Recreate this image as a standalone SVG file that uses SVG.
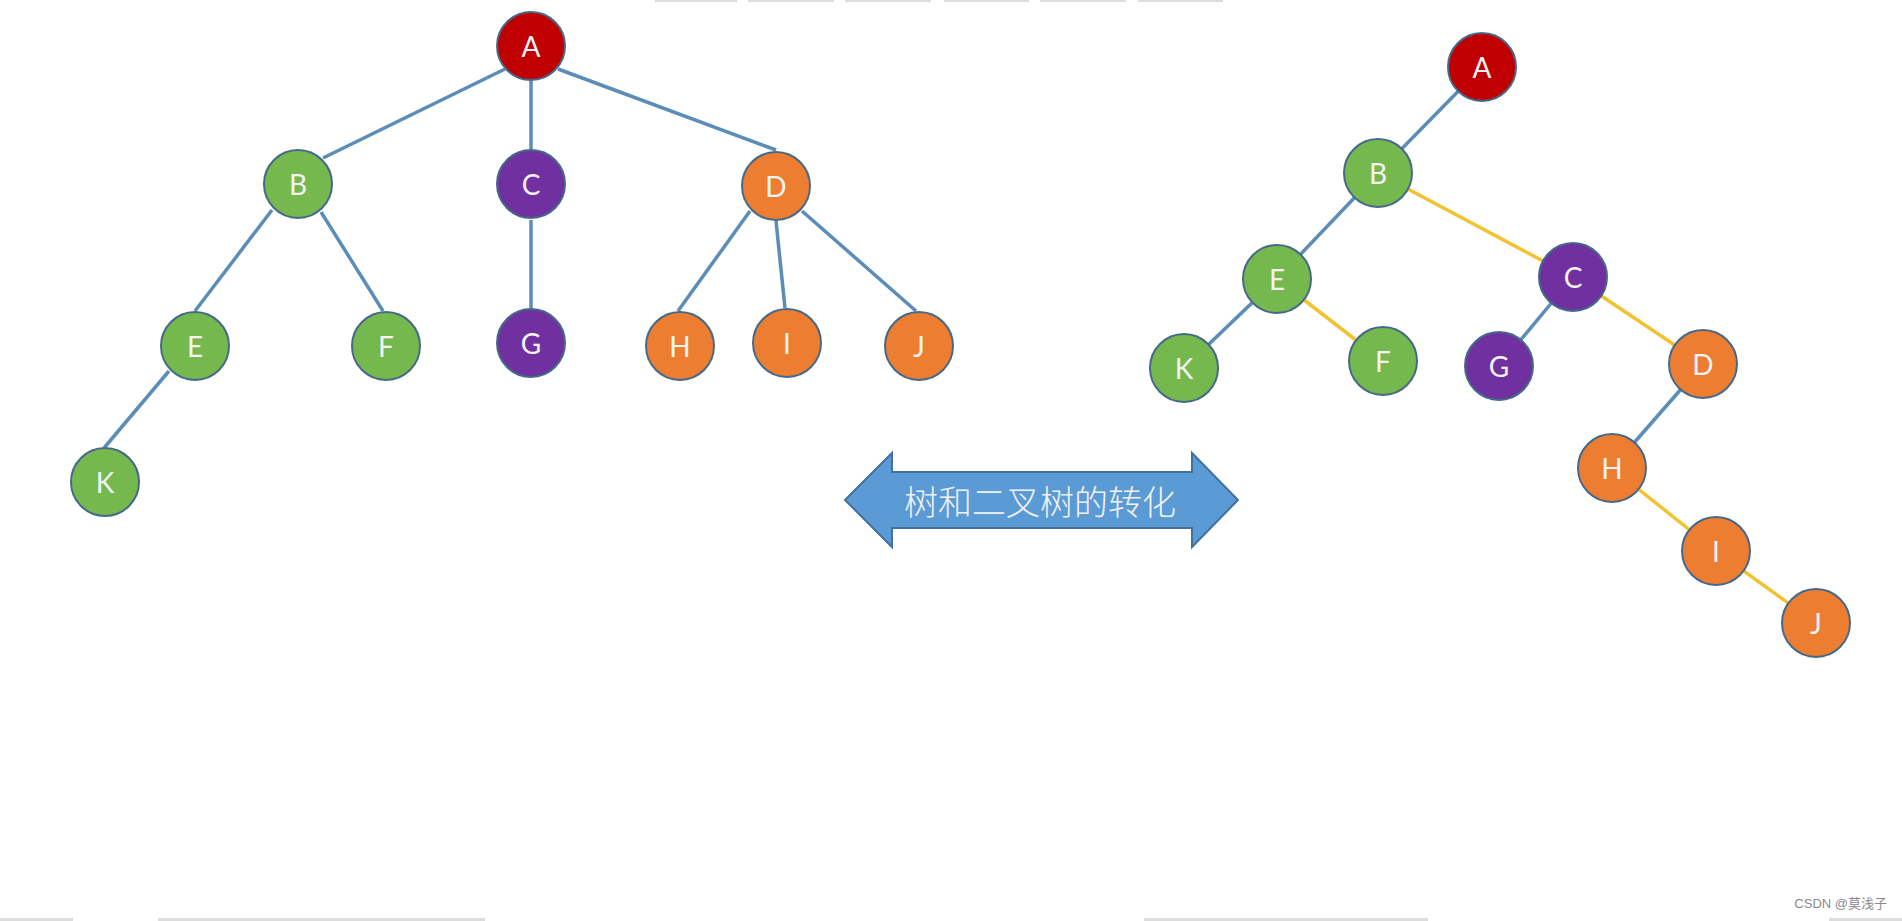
<svg xmlns="http://www.w3.org/2000/svg" width="1902" height="921" viewBox="0 0 1902 921">
<style>
.n circle{stroke:#46698a;stroke-width:2}
.n text{font-family:Lato,"Open Sans","Liberation Sans",sans-serif;font-size:28px;fill:#f4f4f4;text-anchor:middle;dominant-baseline:central}
.red{fill:#c00000}
.grn{fill:#74b84e}
.pur{fill:#7030a0}
.org{fill:#ed7d31}
.eb{stroke:#5b8db8;stroke-width:3.5;fill:none}
.ey{stroke:#f2c231;stroke-width:3.5;fill:none}
.bar{fill:#dcdcdc}
</style>
<rect width="1902" height="921" fill="#ffffff"/>
<g id="artifacts">
<rect class="bar" x="655" y="0" width="82" height="2"/>
<rect class="bar" x="748" y="0" width="86" height="2"/>
<rect class="bar" x="845" y="0" width="86" height="2"/>
<rect class="bar" x="944" y="0" width="85" height="2"/>
<rect class="bar" x="1040" y="0" width="86" height="2"/>
<rect class="bar" x="1138" y="0" width="85" height="2"/>
<rect class="bar" x="0" y="918" width="73" height="3"/>
<rect class="bar" x="158" y="918" width="327" height="3"/>
<rect class="bar" x="1144" y="918" width="284" height="3"/>
<rect class="bar" x="1829" y="918" width="73" height="3"/>
</g>
<g id="connectors">
<line class="eb" x1="505" y1="69" x2="323" y2="158"/>
<line class="eb" x1="531" y1="81" x2="531" y2="149"/>
<line class="eb" x1="558" y1="69" x2="776" y2="150"/>
<line class="eb" x1="272" y1="210" x2="195" y2="311"/>
<line class="eb" x1="321" y1="212" x2="383" y2="311"/>
<line class="eb" x1="531" y1="220" x2="531" y2="309"/>
<line class="eb" x1="750" y1="211" x2="678" y2="311"/>
<line class="eb" x1="776" y1="221" x2="785" y2="308"/>
<line class="eb" x1="802" y1="211" x2="916" y2="311"/>
<line class="eb" x1="169" y1="371" x2="104" y2="448"/>
<line class="eb" x1="1482" y1="67" x2="1378" y2="173"/>
<line class="eb" x1="1378" y1="173" x2="1277" y2="279"/>
<line class="eb" x1="1277" y1="279" x2="1184" y2="368"/>
<line class="eb" x1="1573" y1="277" x2="1499" y2="366"/>
<line class="eb" x1="1703" y1="364" x2="1612" y2="468"/>
<line class="ey" x1="1378" y1="173" x2="1573" y2="277"/>
<line class="ey" x1="1277" y1="279" x2="1383" y2="361"/>
<line class="ey" x1="1573" y1="277" x2="1703" y2="364"/>
<line class="ey" x1="1612" y1="468" x2="1716" y2="551"/>
<line class="ey" x1="1716" y1="551" x2="1816" y2="623"/>
</g>
<g id="L_A" class="n"><circle class="red" cx="531" cy="46" r="34"/><text x="531" y="46">A</text></g>
<g id="L_B" class="n"><circle class="grn" cx="298" cy="184" r="34"/><text x="298" y="184">B</text></g>
<g id="L_C" class="n"><circle class="pur" cx="531" cy="184" r="34"/><text x="531" y="184">C</text></g>
<g id="L_D" class="n"><circle class="org" cx="776" cy="186" r="34"/><text x="776" y="186">D</text></g>
<g id="L_E" class="n"><circle class="grn" cx="195" cy="346" r="34"/><text x="195" y="346">E</text></g>
<g id="L_F" class="n"><circle class="grn" cx="386" cy="346" r="34"/><text x="386" y="346">F</text></g>
<g id="L_G" class="n"><circle class="pur" cx="531" cy="343" r="34"/><text x="531" y="343">G</text></g>
<g id="L_H" class="n"><circle class="org" cx="680" cy="346" r="34"/><text x="680" y="346">H</text></g>
<g id="L_I" class="n"><circle class="org" cx="787" cy="343" r="34"/><text x="787" y="343">I</text></g>
<g id="L_J" class="n"><circle class="org" cx="919" cy="346" r="34"/><text x="919" y="346">J</text></g>
<g id="L_K" class="n"><circle class="grn" cx="105" cy="482" r="34"/><text x="105" y="482">K</text></g>
<g id="R_A" class="n"><circle class="red" cx="1482" cy="67" r="34"/><text x="1482" y="67">A</text></g>
<g id="R_B" class="n"><circle class="grn" cx="1378" cy="173" r="34"/><text x="1378" y="173">B</text></g>
<g id="R_E" class="n"><circle class="grn" cx="1277" cy="279" r="34"/><text x="1277" y="279">E</text></g>
<g id="R_C" class="n"><circle class="pur" cx="1573" cy="277" r="34"/><text x="1573" y="277">C</text></g>
<g id="R_K" class="n"><circle class="grn" cx="1184" cy="368" r="34"/><text x="1184" y="368">K</text></g>
<g id="R_F" class="n"><circle class="grn" cx="1383" cy="361" r="34"/><text x="1383" y="361">F</text></g>
<g id="R_G" class="n"><circle class="pur" cx="1499" cy="366" r="34"/><text x="1499" y="366">G</text></g>
<g id="R_D" class="n"><circle class="org" cx="1703" cy="364" r="34"/><text x="1703" y="364">D</text></g>
<g id="R_H" class="n"><circle class="org" cx="1612" cy="468" r="34"/><text x="1612" y="468">H</text></g>
<g id="R_I" class="n"><circle class="org" cx="1716" cy="551" r="34"/><text x="1716" y="551">I</text></g>
<g id="R_J" class="n"><circle class="org" cx="1816" cy="623" r="34"/><text x="1816" y="623">J</text></g>
<g id="arrow">
<polygon points="845,500 892,453 892,472 1192,472 1192,453 1238,500 1192,547 1192,528 892,528 892,547" fill="#5b9bd5" stroke="#41719c" stroke-width="2"/>
<text x="1040" y="500" font-family="'Noto Sans CJK SC',sans-serif" font-size="34" fill="#f2f2f2" text-anchor="middle" dominant-baseline="central" font-weight="300">树和二叉树的转化</text>
</g>
<text x="1887" y="908" font-family="'Liberation Sans','Noto Sans CJK SC',sans-serif" font-size="13" fill="#8a8a8a" text-anchor="end">CSDN @莫浅子</text>
</svg>
